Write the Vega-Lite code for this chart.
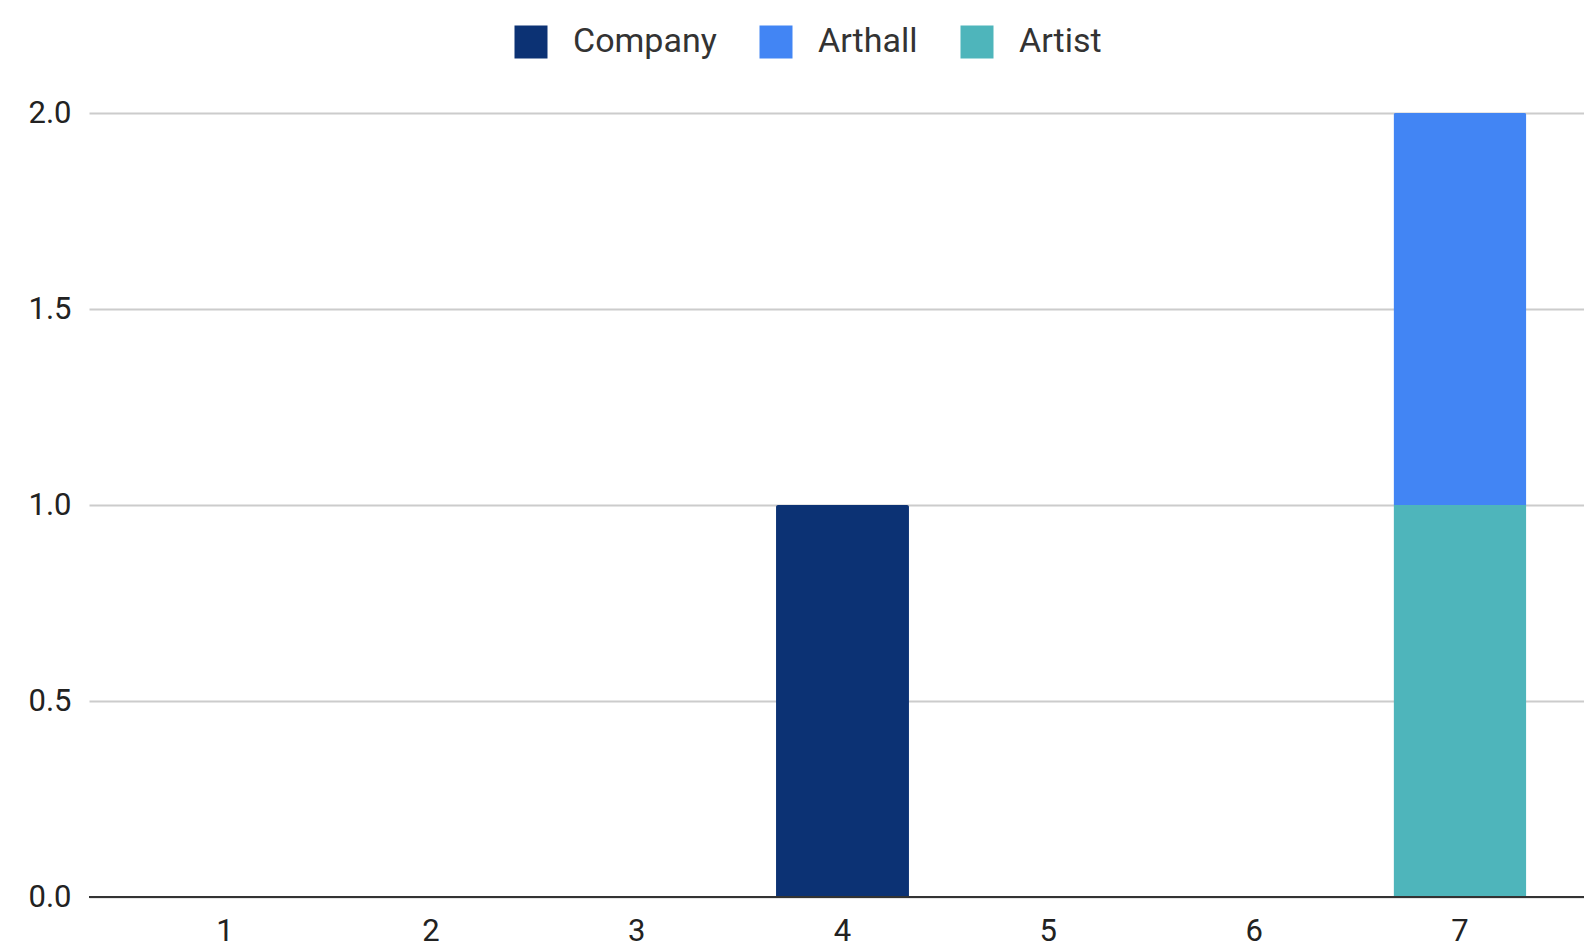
{
  "$schema": "https://vega.github.io/schema/vega-lite/v6.json",
  "autosize": {"type": "none"},
  "width": 1495,
  "height": 784,
  "padding": {"left": 89, "top": 113, "right": 0, "bottom": 47},
  "background": "#ffffff",
  "config": {
    "font": "Roboto",
    "view": {"stroke": null}
  },
  "data": {
    "values": [
      {"x": "1", "series": "Company", "count": 0},
      {"x": "2", "series": "Company", "count": 0},
      {"x": "3", "series": "Company", "count": 0},
      {"x": "4", "series": "Company", "count": 1},
      {"x": "5", "series": "Company", "count": 0},
      {"x": "6", "series": "Company", "count": 0},
      {"x": "7", "series": "Artist", "count": 1},
      {"x": "7", "series": "Arthall", "count": 1}
    ]
  },
  "layer": [
    {
      "mark": {"type": "bar", "cornerRadiusEnd": 2},
      "encoding": {
        "x": {
          "field": "x",
          "type": "ordinal",
          "sort": ["1", "2", "3", "4", "5", "6", "7"],
          "scale": {"range": [0, 1507], "paddingInner": 0.354, "paddingOuter": 0.338},
          "axis": {
            "title": null,
            "labelAngle": 0,
            "labelFontSize": 31,
            "labelColor": "#222222",
            "labelPadding": 19,
            "ticks": false,
            "domain": false,
            "grid": false
          }
        },
        "y": {
          "field": "count",
          "type": "quantitative",
          "stack": "zero",
          "scale": {"domain": [0, 2], "nice": false},
          "axis": {
            "title": null,
            "values": [0, 0.5, 1, 1.5, 2],
            "format": ".1f",
            "labelFontSize": 31,
            "labelColor": "#222222",
            "labelPadding": 18,
            "ticks": false,
            "domain": false,
            "grid": true,
            "gridColor": "#cccccc",
            "gridWidth": 2
          }
        },
        "color": {
          "field": "series",
          "type": "nominal",
          "scale": {
            "domain": ["Company", "Arthall", "Artist"],
            "range": ["#0c3274", "#4285f4", "#4eb5bb"]
          },
          "legend": {
            "title": null,
            "orient": "none",
            "direction": "horizontal",
            "legendX": 425,
            "legendY": -88,
            "symbolType": "square",
            "symbolSize": 1089,
            "symbolStrokeWidth": 0,
            "labelFontSize": 34,
            "labelColor": "#333333",
            "labelOffset": 25,
            "columnPadding": 42
          }
        },
        "order": {"field": "series", "sort": "descending"}
      }
    },
    {
      "mark": {"type": "rule", "color": "#333333", "strokeWidth": 2},
      "encoding": {"y": {"datum": 0}}
    }
  ]
}
